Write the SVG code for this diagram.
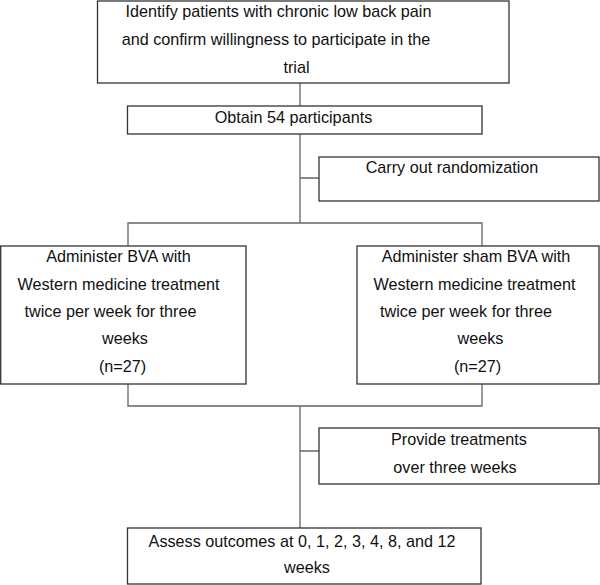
<svg xmlns="http://www.w3.org/2000/svg" width="600" height="585" viewBox="0 0 600 585">
<style>
.box{fill:#fff;stroke:#333;stroke-width:1.3}
.ln{fill:none;stroke:#666;stroke-width:1.3}
text{font-family:"Liberation Sans",Arial,sans-serif;font-size:16.2px;fill:#111;text-anchor:middle}
</style>
<rect width="600" height="585" fill="#fff"/>
<g id="connectors">
<path class="ln" d="M300,83V106M300,134V223M300,178H319M128,246V223H482V246M128,384V406H482V384M300,406V528M300,451H319"/>
</g>
<g id="identify">
<rect class="box" x="97.5" y="1" width="411.5" height="82"/>
<text x="278.5" y="17">Identify patients with chronic low back pain</text>
<text x="276" y="45">and confirm willingness to participate in the</text>
<text x="296.5" y="73">trial</text>
</g>
<g id="obtain">
<rect class="box" x="127.5" y="106" width="354.5" height="28"/>
<text x="293.5" y="123">Obtain 54 participants</text>
</g>
<g id="randomization">
<rect class="box" x="319" y="157" width="280" height="44"/>
<text x="452" y="173">Carry out randomization</text>
</g>
<g id="bva">
<rect class="box" x="0.7" y="246" width="245.3" height="138"/>
<text x="118.5" y="262">Administer BVA with</text>
<text x="118.5" y="289.5">Western medicine treatment</text>
<text x="110.5" y="317">twice per week for three</text>
<text x="125" y="344">weeks</text>
<text x="122.5" y="372">(n=27)</text>
</g>
<g id="sham">
<rect class="box" x="357" y="246" width="242" height="138"/>
<text x="476" y="262">Administer sham BVA with</text>
<text x="474.5" y="289.5">Western medicine treatment</text>
<text x="466" y="317">twice per week for three</text>
<text x="480.5" y="344">weeks</text>
<text x="477.5" y="372">(n=27)</text>
</g>
<g id="treatments">
<rect class="box" x="319" y="428" width="280" height="56"/>
<text x="459" y="445">Provide treatments</text>
<text x="455" y="473">over three weeks</text>
</g>
<g id="assess">
<rect class="box" x="127.5" y="528" width="353.5" height="56"/>
<text x="302" y="547">Assess outcomes at 0, 1, 2, 3, 4, 8, and 12</text>
<text x="307" y="573">weeks</text>
</g>
</svg>
